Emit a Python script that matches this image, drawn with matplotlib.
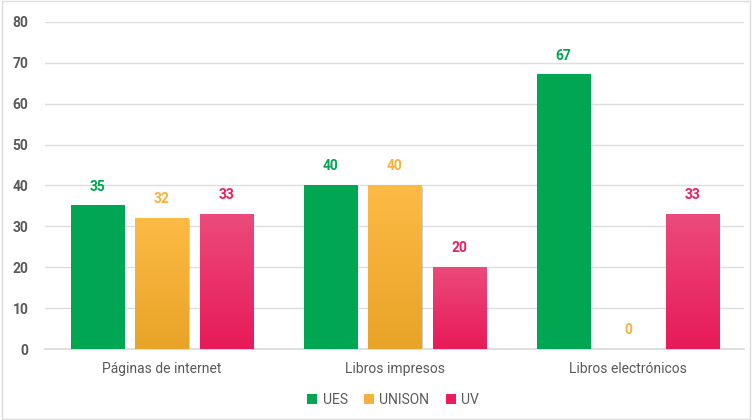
import matplotlib.pyplot as plt
import numpy as np
from matplotlib.colors import LinearSegmentedColormap
from matplotlib.patches import Rectangle

plt.rcParams['font.family'] = ['Roboto', 'DejaVu Sans']

categorias = ['Páginas de internet', 'Libros impresos', 'Libros electrónicos']
series = ['UES', 'UNISON', 'UV']
ues = [35, 40, 67]
unison = [32, 40, 0]
uv = [33, 20, 33]
valores = [ues, unison, uv]

# colores: (arriba, abajo) para el degradado, y color de la etiqueta
col_top = ['#00A651', '#FDBA45', '#EC4A7C']
col_bot = ['#00A651', '#E8A428', '#E81A58']
col_lbl = ['#00A651', '#FBB03B', '#EC1E5C']

fig = plt.figure(figsize=(7.52, 4.20), dpi=100)
fig.patch.set_facecolor('white')
# marco gris claro
fig.patches.append(Rectangle((0.003, 0.003), 0.994, 0.994, transform=fig.transFigure,
                             fill=False, edgecolor='#dcdcdc', linewidth=1))

ax = fig.add_axes([0.06, 0.169, 0.93, 0.779])
x = np.arange(len(categorias))
ancho = 0.228
paso = 0.277

ax.set_xlim(-0.5, 2.5)
ax.set_ylim(0, 80)

for i, vals in enumerate(valores):
    cmap = LinearSegmentedColormap.from_list('g%d' % i, [col_bot[i], col_top[i]])
    for j, v in enumerate(vals):
        xc = x[j] + (i - 1) * paso
        x0, x1 = xc - ancho / 2, xc + ancho / 2
        if v > 0:
            # sombra
            ax.add_patch(Rectangle((x0 + 0.006, 0), ancho, v - 0.3, facecolor='#000000',
                                   alpha=0.18, linewidth=0, zorder=2))
            grad = np.linspace(0, 1, 100).reshape(-1, 1)
            ax.imshow(grad, extent=[x0, x1, 0, v], origin='lower', cmap=cmap,
                      aspect='auto', zorder=3)
        ax.text(xc, v + 3, str(v), ha='center', va='bottom', color=col_lbl[i],
                fontsize=10, fontweight='bold', zorder=4)

ax.set_xlim(-0.5, 2.5)
ax.set_ylim(0, 80)
ax.set_yticks(range(0, 81, 10))
ax.yaxis.grid(True, color='#dedede', linewidth=1)
ax.set_axisbelow(True)
ax.set_xticks(x)
ax.set_xticklabels(categorias, fontsize=10, color='#595959')
for lbl in ax.get_yticklabels():
    lbl.set_fontweight('bold')
ax.tick_params(axis='y', length=0, labelsize=10, labelcolor='#595959', pad=12)
ax.tick_params(axis='x', length=0, pad=9)
for s in ['top', 'right', 'left']:
    ax.spines[s].set_visible(False)
ax.spines['bottom'].set_color('#d9d9d9')
ax.spines['bottom'].set_linewidth(1.2)

handles = [Rectangle((0, 0), 1, 1, facecolor=c) for c in col_lbl]
fig.legend(handles, series, loc='center', bbox_to_anchor=(0.523, 0.048), ncol=3,
           frameon=False, fontsize=10, handlelength=0.7, handleheight=0.7,
           handletextpad=0.4, columnspacing=1.2, labelcolor='#595959')

fig.savefig('out.png', dpi=100)
